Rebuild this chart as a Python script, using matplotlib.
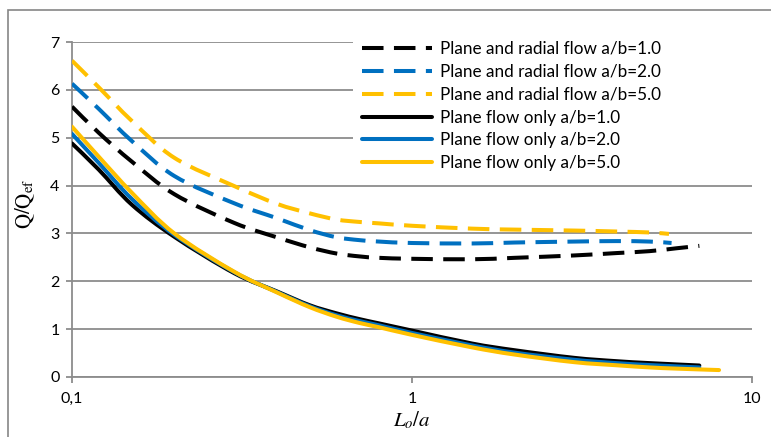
import matplotlib
matplotlib.use("Agg")
import matplotlib.pyplot as plt
from matplotlib.patches import Rectangle, PathPatch
from matplotlib.path import Path
from matplotlib.lines import Line2D
import numpy as np

plt.rcParams['font.family'] = ['Lato', 'DejaVu Sans']
plt.rcParams['mathtext.fontset'] = 'stix'
plt.rcParams['lines.scale_dashes'] = False

# Plane and radial flow (dashed)
x_pr1 = [0.1, 0.12, 0.15, 0.2, 0.3, 0.4, 0.5, 0.6, 0.7, 0.8, 1.0, 1.5, 2, 3, 4, 5, 6, 7]
y_pr1 = [5.65, 5.1, 4.5, 3.82, 3.22, 2.92, 2.71, 2.58, 2.52, 2.49, 2.47, 2.46, 2.49, 2.54, 2.59, 2.63, 2.69, 2.74]

x_pr2 = [0.1, 0.12, 0.15, 0.2, 0.3, 0.4, 0.5, 0.6, 0.7, 0.8, 1.0, 1.5, 2, 3, 4, 5, 5.8]
y_pr2 = [6.13, 5.6, 4.93, 4.2, 3.63, 3.32, 3.07, 2.92, 2.86, 2.83, 2.8, 2.79, 2.81, 2.83, 2.84, 2.83, 2.8]

x_pr5 = [0.1, 0.12, 0.15, 0.2, 0.3, 0.4, 0.5, 0.6, 0.7, 0.8, 1.0, 1.5, 2, 3, 4, 5, 5.7]
y_pr5 = [6.61, 6.05, 5.35, 4.58, 3.99, 3.62, 3.42, 3.29, 3.24, 3.21, 3.16, 3.1, 3.08, 3.06, 3.04, 3.02, 2.99]

# Plane flow only (solid)
x_p1 = [0.1, 0.12, 0.15, 0.2, 0.3, 0.4, 0.5, 0.6, 0.7, 0.8, 1.0, 1.5, 2, 3, 4, 5, 7]
y_p1 = [4.88, 4.33, 3.6, 2.93, 2.17, 1.79, 1.5, 1.33, 1.21, 1.12, 0.97, 0.7, 0.56, 0.4, 0.33, 0.29, 0.24]

x_p2 = [0.1, 0.12, 0.15, 0.2, 0.3, 0.4, 0.5, 0.6, 0.7, 0.8, 1.0, 1.5, 2, 3, 4, 5, 7]
y_p2 = [5.08, 4.47, 3.72, 2.97, 2.19, 1.78, 1.48, 1.29, 1.17, 1.08, 0.92, 0.66, 0.51, 0.36, 0.29, 0.25, 0.2]

x_p5 = [0.1, 0.12, 0.15, 0.2, 0.3, 0.4, 0.5, 0.6, 0.7, 0.8, 1.0, 1.5, 2, 3, 4, 5, 6, 8]
y_p5 = [5.23, 4.6, 3.85, 3.0, 2.2, 1.77, 1.46, 1.26, 1.13, 1.04, 0.88, 0.62, 0.47, 0.31, 0.245, 0.2, 0.175, 0.145]

labels = ["Plane and radial flow a/b=1.0", "Plane and radial flow a/b=2.0",
          "Plane and radial flow a/b=5.0", "Plane flow only a/b=1.0",
          "Plane flow only a/b=2.0", "Plane flow only a/b=5.0"]
x_ticks = [0.1, 1, 10]
x_ticklabels = ["0,1", "1", "10"]
y_ticks = [0, 1, 2, 3, 4, 5, 6, 7]

BLACK, BLUE, GOLD = "#000000", "#0070C0", "#FFC000"
GRID = "#8C8C8C"
W, H = 771, 437


def smooth_path(xs, ys):
    """Smoothed-line path (Catmull-Rom as cubic Beziers) in log-x space."""
    u = np.log10(np.asarray(xs, float))
    v = np.asarray(ys, float)
    pts = np.column_stack([u, v])
    ext = np.vstack([pts[0], pts, pts[-1]])
    verts = [pts[0]]
    codes = [Path.MOVETO]
    for i in range(len(pts) - 1):
        p0, p1, p2, p3 = ext[i], ext[i + 1], ext[i + 2], ext[i + 3]
        c1 = p1 + (p2 - p0) / 6.0
        c2 = p2 - (p3 - p1) / 6.0
        verts += [c1, c2, p2]
        codes += [Path.CURVE4] * 3
    verts = np.array(verts)
    verts[:, 0] = 10 ** verts[:, 0]
    return Path(verts, codes)


fig = plt.figure(figsize=(W / 100, H / 100), dpi=100)
ax = fig.add_axes([72 / W, (H - 377) / H, 680 / W, 335 / H])

ax.set_xscale('log')
ax.set_xlim(0.1, 10)
ax.set_ylim(0, 7)

lw = 2.9
dash = (0, (15.5, 7.5))
series = [
    (x_pr1, y_pr1, BLACK, dash),
    (x_pr2, y_pr2, BLUE, dash),
    (x_pr5, y_pr5, GOLD, dash),
    (x_p1, y_p1, BLACK, '-'),
    (x_p2, y_p2, BLUE, '-'),
    (x_p5, y_p5, GOLD, '-'),
]
handles = []
for (xs, ys, c, ls), lab in zip(series, labels):
    patch = PathPatch(smooth_path(xs, ys), transform=ax.transData, fill=False,
                      edgecolor=c, lw=lw, linestyle=ls,
                      capstyle='round' if ls == '-' else 'butt',
                      joinstyle='round', zorder=3)
    ax.add_patch(patch)
    handles.append(Line2D([], [], color=c, lw=lw, linestyle=ls, label=lab,
                          solid_capstyle='round', dash_capstyle='butt'))

ax.set_xticks(x_ticks)
ax.set_xticklabels(x_ticklabels)
ax.xaxis.set_minor_locator(matplotlib.ticker.NullLocator())
ax.set_yticks(y_ticks)
ax.set_axisbelow(True)
ax.grid(axis='y', color=GRID, lw=1.3)
for s in ['top', 'right']:
    ax.spines[s].set_visible(False)
for s in ['left', 'bottom']:
    ax.spines[s].set_color(GRID)
    ax.spines[s].set_linewidth(1.3)
ax.tick_params(axis='both', colors=GRID, labelcolor='#000000', labelsize=11.5,
               length=4, width=1.3, direction='out')
ax.tick_params(axis='x', pad=7)
ax.tick_params(axis='y', pad=5)

ax.set_ylabel(r"$\mathrm{Q/Q_{ef}}$", fontsize=15)
ax.yaxis.set_label_coords(-35 / 680, 0.5 + 6 / 335)
ax.set_xlabel(r"$L_o/a$", fontsize=15, labelpad=2)

# white area behind the legend
ax.add_patch(Rectangle(((353 - 72) / 680, (377 - 176) / 335), 1.0, 0.5,
                       transform=ax.transAxes, facecolor='white',
                       edgecolor='none', zorder=1, clip_on=False))

leg = ax.legend(handles=handles, loc='upper left',
                bbox_to_anchor=(362 / W, (H - 41) / H),
                bbox_transform=fig.transFigure, frameon=False, fontsize=12.3,
                handlelength=4.1, handletextpad=0.45, labelspacing=0.4,
                borderaxespad=0, borderpad=0)

# outer chart border
fig.add_artist(Rectangle((8 / W, -0.1), 1.2, (H - 10) / H + 0.1,
                         transform=fig.transFigure, fill=False,
                         edgecolor='#868686', lw=1.2))

fig.savefig("out.png", dpi=100)
